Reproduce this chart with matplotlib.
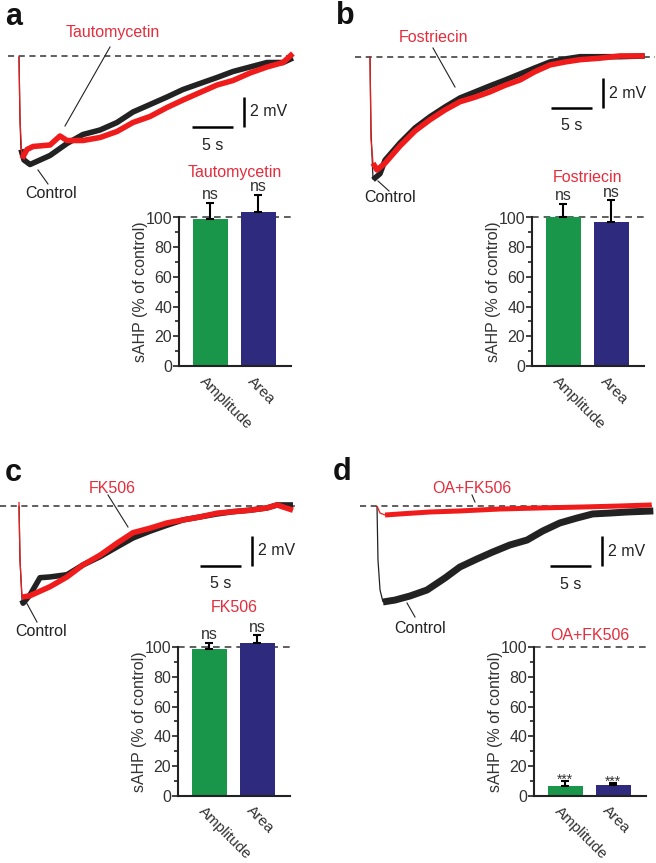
import matplotlib
matplotlib.use('Agg')
import matplotlib.pyplot as plt
import matplotlib.transforms as mtransforms
from matplotlib.ticker import FixedLocator

plt.rcParams['font.family'] = ['Liberation Sans', 'DejaVu Sans']

# --- Data ---
# sAHP traces: time (s) after the burst, potential (mV) relative to baseline
a_ctrl_t = [0, 0.12, 0.24, 0.61, 1.34, 2.56, 3.78, 5.85, 7.80, 9.88, 11.95, 13.9, 15.98, 18.05, 20.0, 22.07, 24.15, 26.1, 28.17, 30.24, 32.2, 33.4]
a_ctrl_v = [0, -4.2, -6.2, -6.9, -7.2, -6.9, -6.6, -5.8, -5.2, -4.9, -4.4, -3.7, -3.2, -2.7, -2.2, -1.8, -1.4, -1.0, -0.7, -0.4, -0.4, -0.1]
a_drug_t = [0, 0.12, 0.37, 0.98, 1.71, 3.78, 5.0, 5.85, 7.8, 9.88, 11.95, 13.9, 15.98, 18.05, 20.0, 22.07, 24.15, 26.1, 28.17, 30.24, 32.2, 33.4]
a_drug_v = [0, -4.2, -6.8, -6.2, -6.0, -5.9, -5.3, -5.6, -5.6, -5.4, -5.0, -4.4, -4.0, -3.4, -2.9, -2.4, -1.9, -1.6, -1.1, -0.7, -0.4, 0.2]

b_ctrl_t = [0, 0.12, 0.37, 1.22, 1.83, 3.66, 5.49, 7.32, 9.15, 10.98, 12.8, 14.6, 16.5, 18.3, 20.1, 21.95, 23.8, 25.6, 28.0, 30.5, 33.5]
b_ctrl_v = [0, -4.9, -8.2, -7.8, -6.9, -5.75, -4.75, -4.0, -3.35, -2.75, -2.35, -1.95, -1.55, -1.15, -0.75, -0.35, -0.15, 0, 0, 0, 0.05]
b_drug_t = [0, 0.12, 0.37, 0.85, 1.83, 3.66, 5.49, 7.32, 9.15, 10.98, 12.8, 14.6, 16.5, 18.3, 20.1, 21.95, 23.8, 25.6, 28.0, 30.5, 33.5]
b_drug_v = [0, -5.5, -7.1, -7.55, -7.1, -5.95, -4.95, -4.2, -3.55, -3.0, -2.7, -2.35, -1.9, -1.55, -1.0, -0.55, -0.35, -0.2, -0.1, 0.05, 0.05]

c_ctrl_t = [0, 0.12, 0.37, 0.5, 1.34, 2.56, 3.78, 5.85, 7.8, 9.88, 11.95, 13.9, 15.98, 18.05, 20.0, 22.07, 24.15, 26.1, 28.17, 30.24, 31.46, 33.41]
c_ctrl_v = [0, -3.6, -6.3, -6.5, -5.95, -4.8, -4.75, -4.6, -3.95, -3.4, -2.75, -2.15, -1.7, -1.3, -0.95, -0.75, -0.55, -0.4, -0.3, -0.15, 0.05, 0.05]
c_drug_t = [0, 0.12, 0.37, 1.34, 3.78, 5.85, 7.8, 9.88, 11.95, 13.9, 15.98, 18.05, 20.0, 22.07, 24.15, 26.1, 28.17, 30.24, 31.46, 33.41]
c_drug_v = [0.25, -3.6, -6.1, -6.0, -5.4, -4.75, -3.95, -3.3, -2.5, -1.8, -1.5, -1.15, -0.95, -0.75, -0.5, -0.4, -0.3, -0.15, 0.05, -0.3]

d_ctrl_t = [0, 0.12, 0.37, 0.73, 2.2, 4.02, 6.1, 8.29, 10.1, 12.2, 14.1, 16.2, 18.3, 20.2, 22.3, 24.4, 26.3, 28.4, 30.5, 33.7]
d_ctrl_v = [0, -3.6, -5.6, -6.4, -6.27, -6.0, -5.6, -4.8, -4.07, -3.53, -3.07, -2.6, -2.27, -1.67, -1.13, -0.8, -0.53, -0.47, -0.4, -0.33]
d_drug_t = [0, 0.37, 0.98, 2.8, 6.46, 10.1, 15.0, 19.9, 24.8, 29.6, 33.5]
d_drug_v = [0, -0.47, -0.6, -0.53, -0.4, -0.33, -0.2, -0.13, -0.07, 0, 0.07]

# Summary bars: sAHP in % of control (mean, upper SEM)
bar_labels = ['Amplitude', 'Area']
a_bar_mean = [99, 104]
a_bar_err = [11, 11]
b_bar_mean = [100, 97]
b_bar_err = [9, 14.5]
c_bar_mean = [98.5, 102.5]
c_bar_err = [4.5, 5.5]
d_bar_mean = [6.5, 7.2]
d_bar_err = [3.2, 1.5]

a_marks = ['ns', 'ns']
b_marks = ['ns', 'ns']
c_marks = ['ns', 'ns']
d_marks = ['***', '***']

# --- Style ---
W, H = 656, 863
SX = 8.2     # px per second in the traces
SY = 15.0    # px per mV in the traces
PY = 1.485   # px per % in the bar plots
RED = '#f01c1c'
RED_TXT = '#e42d3d'
BLACK = '#222222'
GREEN = '#19964a'
BLUE = '#2e2b7e'
FS = 11.5

fig = plt.figure(figsize=(W / 100, H / 100), dpi=100)
fig.patch.set_facecolor('white')


def px_axes(x0, y0, x1, y1):
    """Axes placed by pixel box (top-left origin)."""
    return fig.add_axes([x0 / W, 1 - y1 / H, (x1 - x0) / W, (y1 - y0) / H])


def plot_trace(ax, t, v, color, lw, n_spike=3):
    # fast spike drawn thin, slow sAHP drawn as a thick (noisy) band
    ax.plot(t[:n_spike], v[:n_spike], color=color, lw=0.9, solid_capstyle='butt')
    ax.plot(t[n_spike - 1:], v[n_spike - 1:], color=color, lw=lw,
            solid_joinstyle='round', solid_capstyle='butt')


def trace_panel(box, origin, ctrl, drug, drug_name, drug_txt, drug_line,
                ctrl_txt, ctrl_line, base_x, bar_t, bar_v, lw_ctrl=4.0, lw_drug=4.0,
                n_spike=3):
    ax = px_axes(*box)
    x0, yb = origin

    def d(px, py):
        return (px - x0) / SX, (yb - py) / SY

    ax.set_xlim((box[0] - x0) / SX, (box[2] - x0) / SX)
    ax.set_ylim((yb - box[3]) / SY, (yb - box[1]) / SY)
    ax.axis('off')

    # baseline
    bx0, _ = d(base_x[0], yb)
    bx1, _ = d(base_x[1], yb)
    ax.plot([bx0, bx1], [0, 0], color='#333333', lw=1.1, ls=(0, (4, 3)), zorder=1)

    plot_trace(ax, ctrl[0], ctrl[1], BLACK, lw_ctrl, n_spike)
    plot_trace(ax, drug[0], drug[1], RED, lw_drug)

    # labels with pointer lines
    tx, ty = d(*drug_txt)
    ax.text(tx, ty, drug_name, color=RED_TXT, fontsize=FS, ha='center', va='center')
    (p0x, p0y), (p1x, p1y) = d(*drug_line[0]), d(*drug_line[1])
    ax.plot([p0x, p1x], [p0y, p1y], color='#222222', lw=0.8)
    tx, ty = d(*ctrl_txt)
    ax.text(tx, ty, 'Control', color='#222222', fontsize=FS, ha='center', va='center')
    (p0x, p0y), (p1x, p1y) = d(*ctrl_line[0]), d(*ctrl_line[1])
    ax.plot([p0x, p1x], [p0y, p1y], color='#222222', lw=0.8)

    # scale bars: 5 s and 2 mV
    ax.plot([bar_t - 6.3, bar_t - 1.3], [bar_v, bar_v], color='k', lw=1.8, solid_capstyle='butt')
    ax.plot([bar_t, bar_t], [bar_v, bar_v + 2], color='k', lw=1.8, solid_capstyle='butt')
    ax.text(bar_t + 0.75, bar_v + 1.0, '2 mV', fontsize=FS, ha='left', va='center', color='#222222')
    ax.text(bar_t - 3.8, bar_v - 1.2, '5 s', fontsize=FS, ha='center', va='center', color='#222222')
    return ax


def bar_panel(spine_x, zero_y, means, errs, marks, title, title_y, mark_fs):
    ax = px_axes(spine_x, zero_y - 120 * PY, spine_x + 112, zero_y)
    x = [0, 1]
    ax.bar(x, means, width=0.73, color=[GREEN, BLUE], zorder=2)
    ax.errorbar(x, means, yerr=[[0, 0], errs], fmt='none', ecolor='k',
                elinewidth=1.5, capsize=3, capthick=1.5, zorder=3)
    ax.axhline(100, color='#444444', lw=1.2, ls=(0, (4, 3)), zorder=1)
    ax.set_xlim(-0.65, 1.683)
    ax.set_ylim(0, 120)
    for s in ['top', 'right']:
        ax.spines[s].set_visible(False)
    for s in ['left', 'bottom']:
        ax.spines[s].set_linewidth(1.5)
        ax.spines[s].set_color('#222222')
    ax.spines['left'].set_bounds(0, 100)
    ax.set_yticks(range(0, 101, 20))
    ax.yaxis.set_minor_locator(FixedLocator(range(10, 100, 20)))
    ax.tick_params(axis='y', which='major', direction='out', length=4, width=1.2,
                   pad=1, labelsize=FS, labelcolor='#333333', color='#222222')
    ax.tick_params(axis='y', which='minor', direction='out', length=3, width=1.2, color='#222222')
    ax.set_xticks([])
    ax.set_ylabel('sAHP (% of control)', fontsize=FS, color='#333333')
    ax.yaxis.set_label_coords(-0.28, 50 / 120)

    # rotated category labels
    off = mtransforms.ScaledTranslation(-3 / 100, -8 / 100, fig.dpi_scale_trans)
    for xi, lab in zip(x, bar_labels):
        ax.text(xi, 0, lab, transform=ax.get_xaxis_transform() + off, rotation=-45,
                rotation_mode='anchor', ha='left', va='top', fontsize=11, color='#333333')

    # significance marks
    for xi, m, e, lab in zip(x, means, errs, marks):
        if lab == 'ns':
            ax.text(xi, m + e + 0.5, lab, ha='center', va='bottom', fontsize=mark_fs,
                    color='#333333', clip_on=False)
        else:
            ax.text(xi, m + e - 2, lab, ha='center', va='baseline', fontsize=mark_fs,
                    color='#333333', clip_on=False)

    ax.text(0.5, title_y, title, transform=ax.get_yaxis_transform(), ha='center',
            va='center', color=RED_TXT, fontsize=FS, clip_on=False)
    return ax


# --- Panel a ---
trace_panel((0, 0, 330, 215), (19, 56.5), (a_ctrl_t, a_ctrl_v), (a_drug_t, a_drug_v),
            'Tautomycetin', (113, 33), ((110, 47), (65, 126)),
            (51, 193), ((38, 170), (48, 184)), (8, 293), 27.4, -4.7)
bar_panel(179, 366, a_bar_mean, a_bar_err, a_marks, 'Tautomycetin', 130, FS)

# --- Panel b ---
trace_panel((330, 0, 656, 215), (370, 56.7), (b_ctrl_t, b_ctrl_v), (b_drug_t, b_drug_v),
            'Fostriecin', (433, 38), ((433, 48), (455, 87)),
            (390, 198), ((378, 181), (389, 191)), (355, 655), 28.4, -3.42)
bar_panel(532, 366, b_bar_mean, b_bar_err, b_marks, 'Fostriecin', 127, FS)

# --- Panel c ---
trace_panel((0, 440, 330, 650), (19, 505.7), (c_ctrl_t, c_ctrl_v), (c_drug_t, c_drug_v),
            'FK506', (112, 488), ((108, 495), (128, 527)),
            (41, 632), ((25, 600), (37, 622)), (0, 295), 28.4, -4.0)
bar_panel(178, 795.7, c_bar_mean, c_bar_err, c_marks, 'FK506', 126.4, FS)

# --- Panel d ---
trace_panel((330, 440, 656, 650), (377, 506), (d_ctrl_t, d_ctrl_v), (d_drug_t, d_drug_v),
            'OA+FK506', (472, 488), ((472, 495), (475, 502)),
            (420, 628), ((407, 603), (415, 617)), (360, 652), 27.4, -4.0,
            lw_ctrl=5.0, lw_drug=3.6, n_spike=4)
bar_panel(534, 795.7, d_bar_mean, d_bar_err, d_marks, 'OA+FK506', 108.2, 10)

# panel letters
for letter, (px, py) in zip('abcd', [(14, 17), (345, 16), (13, 473), (342, 472)]):
    fig.text(px / W, 1 - py / H, letter, fontsize=22, fontweight='bold',
             ha='center', va='center', color='#111111')

fig.savefig('out.png', dpi=100, facecolor='white')
